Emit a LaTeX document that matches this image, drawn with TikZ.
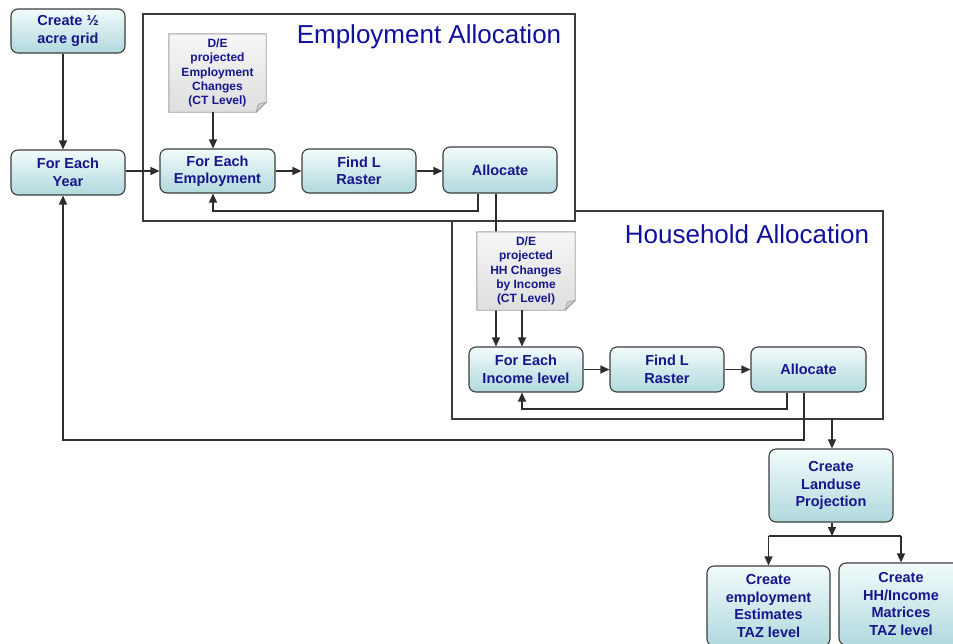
\documentclass[tikz,border=0pt]{standalone}
\usepackage{fontspec}
\setmainfont{Liberation Sans}
\usetikzlibrary{arrows.meta}
\definecolor{txtblue}{RGB}{22,22,140}
\definecolor{ttlblue}{RGB}{16,16,160}
\definecolor{boxtop}{RGB}{242,251,251}
\definecolor{boxbot}{RGB}{176,217,221}
\definecolor{edgec}{RGB}{60,60,60}
\definecolor{linec}{RGB}{45,45,45}
\definecolor{doctop}{RGB}{246,246,246}
\definecolor{docbot}{RGB}{222,222,222}
\definecolor{docedge}{RGB}{160,160,160}
\tikzset{
 procbox/.style={draw=edgec, line width=1.1pt, rounded corners=7pt, top color=boxtop, bottom color=boxbot, align=center, font=\fontsize{14.5}{17.5}\selectfont\bfseries, text=txtblue, inner sep=0pt},
 docnode/.style={inner sep=0pt, align=center, font=\fontsize{12}{14.2}\selectfont\bfseries, text=txtblue},
 docshape/.style={draw=docedge, line width=0.9pt, top color=doctop, bottom color=docbot},
 conn/.style={draw=linec, line width=1.2pt},
 arr/.style={conn, -{Triangle[length=9pt,width=8pt]}},
 framebox/.style={draw=edgec, line width=1.2pt},
 titletext/.style={font=\fontsize{26}{30}\selectfont, text=ttlblue, inner sep=0pt}
}
\begin{document}
\begin{tikzpicture}[x=1pt,y=-1pt]
\useasboundingbox (0,0) rectangle (953,643);
\clip (0,0) rectangle (953,643);
% frames
\draw[framebox] (452,211) rectangle (883,419);
\draw[framebox, fill=white] (143,14) rectangle (575,221);
\node[titletext] (t1) at (429,37) {Employment Allocation};
\node[titletext] (t2) at (747,234) {Household Allocation};
% process boxes
\node[procbox, minimum width=114pt, minimum height=44pt] (grid) at (68,31) {Create \char"00BD\\acre grid};
\node[procbox, minimum width=114pt, minimum height=45pt] (year) at (68,172.5) {For Each\\Year};
\node[procbox, minimum width=115pt, minimum height=44pt] (foremp) at (217.5,171) {For Each\\Employment};
\node[procbox, minimum width=114pt, minimum height=44pt] (findA) at (359,171) {Find L\\Raster};
\node[procbox, minimum width=114pt, minimum height=46pt] (allocA) at (500,170) {Allocate};
\node[procbox, minimum width=114pt, minimum height=45pt] (forinc) at (526,369.5) {For Each\\Income level};
\node[procbox, minimum width=114pt, minimum height=45pt] (findB) at (667,369.5) {Find L\\Raster};
\node[procbox, minimum width=115pt, minimum height=45pt] (allocB) at (808.5,369.5) {Allocate};
\node[procbox, minimum width=124pt, minimum height=73pt] (landuse) at (831,485.5) {Create\\Landuse\\Projection};
\node[procbox, minimum width=123pt, minimum height=80pt] (empest) at (768.5,606) {Create\\employment\\Estimates\\TAZ level};
\node[procbox, minimum width=124pt, minimum height=82pt] (hhmat) at (901,604) {Create\\HH/Income\\Matrices\\TAZ level};
% connectors behind documents
\coordinate (aAx) at (496,0);
\draw[arr] (allocA.south -| aAx) -- (forinc.north -| aAx);
% documents
\node[docnode, minimum width=97pt, minimum height=78pt] (docA) at (217.5,73) {D/E\\projected\\Employment\\Changes\\(CT Level)};
\draw[docshape] (docA.north west) -- (docA.north east) -- ([yshift=10pt]docA.south east) -- ([xshift=-10pt]docA.south east) -- (docA.south west) -- cycle;
\draw[docedge, fill=docbot!80!gray, line width=0.7pt] ([yshift=10pt]docA.south east) -- ([xshift=-10pt]docA.south east) -- ([xshift=-8pt,yshift=8pt]docA.south east) -- cycle;
\node[docnode] at (docA) {D/E\\projected\\Employment\\Changes\\(CT Level)};
\node[docnode, minimum width=98pt, minimum height=78pt] (docB) at (526,271) {D/E\\projected\\HH Changes\\by Income\\(CT Level)};
\draw[docshape] (docB.north west) -- (docB.north east) -- ([yshift=10pt]docB.south east) -- ([xshift=-10pt]docB.south east) -- (docB.south west) -- cycle;
\draw[docedge, fill=docbot!80!gray, line width=0.7pt] ([yshift=10pt]docB.south east) -- ([xshift=-10pt]docB.south east) -- ([xshift=-8pt,yshift=8pt]docB.south east) -- cycle;
\node[docnode] at (docB) {D/E\\projected\\HH Changes\\by Income\\(CT Level)};
% coordinates
\coordinate (gx) at (63,0);
\coordinate (fex) at (213,0);
\coordinate (fbA) at (478,211);
\coordinate (bBx) at (522,0);
\coordinate (fbB) at (787,409);
\coordinate (longB) at (804,440);
\coordinate (luin) at (832,418);
\coordinate (split) at (832,536);
\coordinate (splitL) at (768.5,536);
\coordinate (splitR) at (901,536);
% connectors
\draw[arr] (grid.south -| gx) -- (year.north -| gx);
\draw[arr] (year.east |- foremp.east) -- (foremp.west);
\draw[arr] (docA.south -| fex) -- (foremp.north -| fex);
\draw[arr] (foremp.east) -- (findA.west);
\draw[arr] (findA.east) -- (allocA.west |- findA.east);
\draw[arr] (allocA.south -| fbA) -- (fbA) -| (foremp.south -| fex);
\draw[arr] (docB.south -| bBx) -- (forinc.north -| bBx);
\draw[arr] (forinc.east) -- (findB.west);
\draw[arr] (findB.east) -- (allocB.west);
\draw[arr] (allocB.south -| fbB) -- (fbB) -| (forinc.south -| bBx);
\draw[arr] (allocB.south -| longB) -- (longB) -| (year.south -| gx);
\draw[arr] (luin) -- (landuse.north -| luin);
\draw[arr] (landuse.south -| split) -- (split);
\draw[conn] (splitL) -- (splitR);
\draw[arr] (splitL) -- (empest.north);
\draw[arr] (splitR) -- (hhmat.north);
\end{tikzpicture}
\end{document}
